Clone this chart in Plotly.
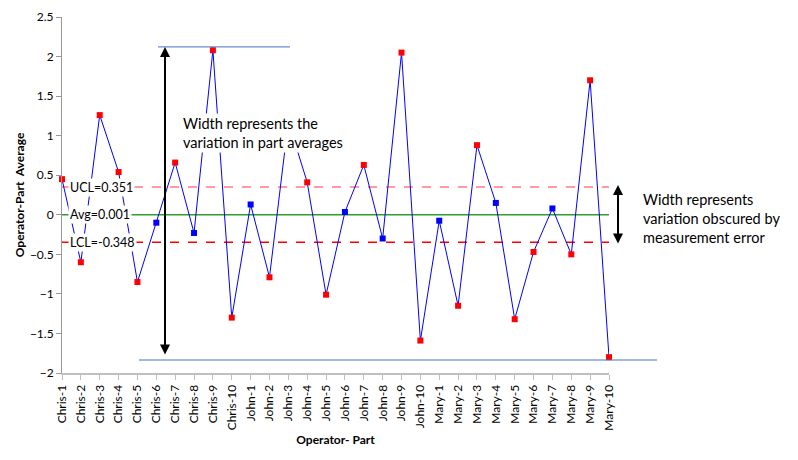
import plotly.graph_objects as go

operators = ["Chris", "John", "Mary"]
parts = list(range(1, 11))
categories = [f"{op}-{p}" for op in operators for p in parts]

part_avgs = [
    0.45, -0.60, 1.26, 0.54, -0.85, -0.10, 0.66, -0.23, 2.08, -1.30,
    0.13, -0.79, 1.18, 0.41, -1.01, 0.035, 0.63, -0.30, 2.05, -1.59,
    -0.075, -1.15, 0.88, 0.15, -1.32, -0.47, 0.08, -0.50, 1.70, -1.80,
]

UCL = 0.351
AVG = 0.001
LCL = -0.348

FONT = "Lato, 'Open Sans', sans-serif"
xs = list(range(len(categories)))

# points outside the limits are red, inside are blue
colors = ["#FF0000" if (v > UCL or v < LCL) else "#0000FF" for v in part_avgs]

fig = go.Figure()

fig.add_trace(go.Scatter(x=[xs[0], xs[-1]], y=[UCL, UCL], mode="lines",
                         line=dict(color="#FF7C80", width=1.5, dash="dash"), hoverinfo="skip"))
fig.add_trace(go.Scatter(x=[xs[0], xs[-1]], y=[AVG, AVG], mode="lines",
                         line=dict(color="#2CA02C", width=1.5), hoverinfo="skip"))
fig.add_trace(go.Scatter(x=[xs[0], xs[-1]], y=[LCL, LCL], mode="lines",
                         line=dict(color="#FF0000", width=1.5, dash="dash"), hoverinfo="skip"))

fig.add_trace(go.Scatter(
    x=xs, y=part_avgs, mode="lines+markers",
    line=dict(color="#0000FF", width=1),
    marker=dict(symbol="square", size=6, color=colors),
    cliponaxis=False,
))

# limit labels
for name, val in [("UCL", UCL), ("Avg", AVG), ("LCL", LCL)]:
    fig.add_annotation(x=0.3, y=val, xref="x", yref="y", xanchor="left",
                       text=f"{name}={val}", showarrow=False, bgcolor="white",
                       font=dict(family=FONT, size=12.5, color="black"), borderpad=1)

# reference lines (paper coords)
fig.add_shape(type="line", xref="paper", yref="paper", x0=0.1755, x1=0.4168, y0=0.916, y1=0.916,
              line=dict(color="#4472C4", width=1))
fig.add_shape(type="line", xref="paper", yref="paper", x0=0.1408, x1=1.0878, y0=0.0365, y1=0.0365,
              line=dict(color="#4472C4", width=1))

# arrows
fig.add_annotation(xref="paper", yref="paper", x=0.1883, y=0.916, ax=0, ay=309,
                   text="", showarrow=True, arrowhead=2, arrowside="end+start",
                   arrowsize=1, arrowwidth=2, arrowcolor="black")
fig.add_annotation(xref="paper", yref="paper", x=1.0165, y=0.528, ax=0, ay=60,
                   text="", showarrow=True, arrowhead=2, arrowside="end+start",
                   arrowsize=1, arrowwidth=2, arrowcolor="black")

fig.add_annotation(xref="paper", yref="paper", x=0.2175, y=0.730, xanchor="left",
                   text="Width represents the<br>variation in part averages",
                   showarrow=False, align="left", bgcolor="white",
                   font=dict(family=FONT, size=14.5, color="black"))
fig.add_annotation(xref="paper", yref="paper", x=1.0585, y=0.435, xanchor="left",
                   text="Width represents<br>variation obscured by<br>measurement error",
                   showarrow=False, align="left",
                   font=dict(family=FONT, size=14.5, color="black"))

# page body has an 8px margin, so the figure is 8px smaller and margins shifted
fig.update_layout(
    width=790, height=452,
    margin=dict(l=54, r=189, t=9, b=87, autoexpand=False),
    plot_bgcolor="white", paper_bgcolor="white",
    showlegend=False,
    font=dict(family=FONT, size=12, color="black"),
)
fig.update_xaxes(
    range=[xs[0], xs[-1]], tickmode="array", tickvals=xs, ticktext=categories,
    tickangle=-90, ticks="outside", ticklen=5, tickcolor="#BFBFBF",
    showline=True, linecolor="#BFBFBF", linewidth=2, showgrid=False, zeroline=False,
    automargin=False,
    title=dict(text="<b>Operator- Part</b>", font=dict(size=12), standoff=6),
)
fig.update_yaxes(
    range=[-2, 2.5], dtick=0.5, ticks="outside", ticklen=5, tickcolor="#999999",
    showline=True, linecolor="#999999", linewidth=1, showgrid=False, zeroline=False,
    automargin=False,
    title=dict(text="<b>Operator-Part  Average</b>", font=dict(size=12), standoff=2),
)

fig.write_html("out.html")
